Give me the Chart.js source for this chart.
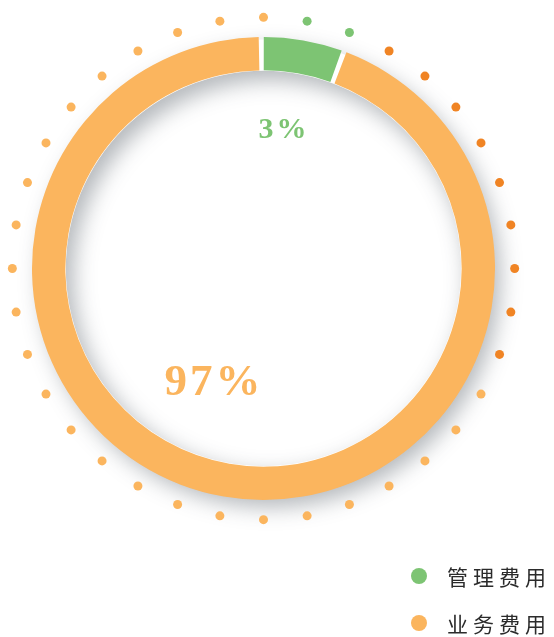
<!DOCTYPE html>
<html>
<head>
<meta charset="utf-8">
<script src="https://cdn.jsdelivr.net/npm/chart.js@4.4.0/dist/chart.umd.min.js"></script>
<style>
    html, body { margin: 0; padding: 0; background: #fff; }
    #wrap { position: relative; width: 554px; height: 637px; }
    #legend { position: absolute; left: 411px; top: 552px; }
    .item { display: flex; align-items: center; height: 47px; }
    .dot { width: 16px; height: 16px; border-radius: 50%; margin-right: 20px; }
    .txt { font-family: "Noto Sans CJK SC", sans-serif; font-weight: 400; font-size: 21px; letter-spacing: 5px; color: #2b2b2b; white-space: nowrap; }
</style>
</head>
<body>
<div id="wrap">
    <canvas id="c" width="554" height="637"></canvas>
    <div id="legend"></div>
</div>
<script>
// 数据
const labels = ['管理费用', '业务费用'];
const arcValues = [5.5, 94.5];          // 图上扇区所占比例
const valueTexts = ['3%', '97%'];       // 图上标注文字
const colors = ['#7dc473', '#fbb55e'];

// 外圈装饰圆点（每10度一个，共36个）
const dotColorKeys = [
    'light', 'green', 'green', 'dark', 'dark', 'dark', 'dark', 'dark', 'dark',
    'dark', 'dark', 'dark', 'light', 'light', 'light', 'light', 'light', 'light',
    'light', 'light', 'light', 'light', 'light', 'light', 'light', 'light', 'light',
    'light', 'light', 'light', 'light', 'light', 'light', 'light', 'light', 'light'
];
const dotPalette = { light: '#fbb55e', green: '#7dc473', dark: '#f08424' };

// 圆环阴影
const ringShadow = {
    id: 'ringShadow',
    beforeDatasetsDraw(chart) {
        const arc = chart.getDatasetMeta(0).data[0];
        if (!arc) return;
        const { x, y, innerRadius, outerRadius } = arc.getProps(['x', 'y', 'innerRadius', 'outerRadius'], true);
        const ctx = chart.ctx;
        ctx.save();
        ctx.shadowColor = 'rgba(60, 70, 80, 0.4)';
        ctx.shadowBlur = 22;
        ctx.shadowOffsetX = 7;
        ctx.shadowOffsetY = 9;
        ctx.fillStyle = '#fff';
        ctx.beginPath();
        ctx.arc(x, y, outerRadius - 1, 0, Math.PI * 2);
        ctx.arc(x, y, innerRadius + 1, 0, Math.PI * 2, true);
        ctx.fill();
        ctx.restore();
    }
};

// 外圈圆点 + 百分比文字
const decorations = {
    id: 'decorations',
    afterDatasetsDraw(chart) {
        const meta = chart.getDatasetMeta(0);
        const arc = meta.data[0];
        if (!arc) return;
        const { x, y, outerRadius } = arc.getProps(['x', 'y', 'outerRadius'], true);
        const ctx = chart.ctx;
        ctx.save();
        const r = outerRadius * 1.092;
        dotColorKeys.forEach((key, i) => {
            const a = -Math.PI / 2 + i * Math.PI * 2 / dotColorKeys.length;
            ctx.fillStyle = dotPalette[key];
            ctx.beginPath();
            ctx.arc(x + r * Math.cos(a), y + r * Math.sin(a), 4.5, 0, Math.PI * 2);
            ctx.fill();
        });

        // 标注文字
        const spots = [
            { dx: 0.083, dy: -0.60, size: 30, spacing: 3 },
            { dx: -0.222, dy: 0.50, size: 45, spacing: 3 }
        ];
        ctx.textAlign = 'center';
        ctx.textBaseline = 'middle';
        valueTexts.forEach((t, i) => {
            const s = spots[i];
            ctx.fillStyle = colors[i];
            ctx.font = 'bold ' + s.size + 'px "Liberation Serif", serif';
            ctx.letterSpacing = s.spacing + 'px';
            ctx.fillText(t, x + s.dx * outerRadius + s.spacing / 2, y + s.dy * outerRadius);
        });
        ctx.restore();
    }
};

new Chart(document.getElementById('c'), {
    type: 'doughnut',
    data: {
        labels: labels,
        datasets: [{
            data: arcValues,
            backgroundColor: colors,
            borderWidth: 0,
            spacing: 3
        }]
    },
    options: {
        responsive: false,
        animation: false,
        cutout: '85.5%',
        layout: {
            padding: { left: 32, top: 37, right: 59, bottom: 137 }
        },
        plugins: {
            legend: { display: false },
            tooltip: { enabled: false }
        }
    },
    plugins: [ringShadow, decorations]
});

// 图例
const legendEl = document.getElementById('legend');
labels.forEach((name, i) => {
    const item = document.createElement('div');
    item.className = 'item';
    item.innerHTML = '<span class="dot" style="background:' + colors[i] + '"></span><span class="txt">' + name + '</span>';
    legendEl.appendChild(item);
});
</script>
</body>
</html>
